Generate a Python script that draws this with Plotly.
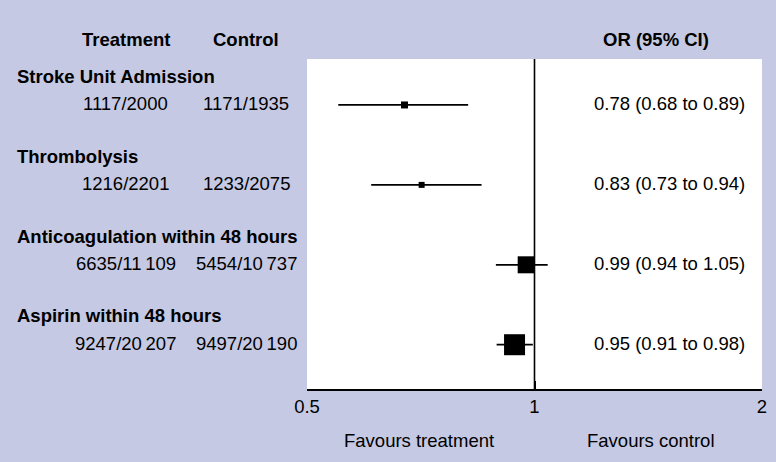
import plotly.graph_objects as go
import math

# ---- data ----
groups = ["Stroke Unit Admission", "Thrombolysis",
          "Anticoagulation within 48 hours", "Aspirin within 48 hours"]
treatment = ["1117/2000", "1216/2201", "6635/11\u2009109", "9247/20\u2009207"]
control = ["1171/1935", "1233/2075", "5454/10\u2009737", "9497/20\u2009190"]
or_text = ["0.78 (0.68 to 0.89)", "0.83 (0.73 to 0.94)",
           "0.99 (0.94 to 1.05)", "0.95 (0.91 to 0.98)"]
# positions of the squares / lines as drawn in the picture
or_point = [0.673, 0.709, 0.975, 0.941]
ci_low = [0.550, 0.608, 0.889, 0.891]
ci_high = [0.817, 0.851, 1.041, 0.995]
weights = [7, 6, 17, 21]
tick_vals = [0.5, 1, 2]
tick_text = ["0.5", "1", "2"]

rows = list(range(len(groups)))
BG = "#c5c9e3"
FONT = "Liberation Sans, Arial, Helvetica, sans-serif"
FS = 18.5

fig = go.Figure()
fig.add_trace(go.Scatter(
    x=or_point, y=rows, mode="markers",
    marker=dict(symbol="square", size=weights, color="black", opacity=1,
                line=dict(width=0)),
    error_x=dict(type="data", symmetric=False,
                 array=[h - p for h, p in zip(ci_high, or_point)],
                 arrayminus=[p - l for p, l in zip(or_point, ci_low)],
                 color="black", thickness=1.8, width=0),
    showlegend=False, hoverinfo="skip", cliponaxis=False,
))

fig.add_shape(type="line", xref="x", yref="paper", x0=1, x1=1, y0=0, y1=1,
              line=dict(color="black", width=1.6), layer="above")

ann = []
def A(x, y, text, xref="paper", yref="y", bold=False, xanchor="center"):
    ann.append(dict(x=x, y=y, xref=xref, yref=yref, text=f"<b>{text}</b>" if bold else text,
                    showarrow=False, xanchor=xanchor, yanchor="middle",
                    borderpad=0,
                    font=dict(family=FONT, size=FS, color="black")))

for r, g, t, c, o in zip(rows, groups, treatment, control, or_text):
    A(-0.64, r - 0.36, g, bold=True, xanchor="left")
    A(-0.3985, r - 0.02, t)
    A(-0.1333, r - 0.02, c)
    A(0.797, r - 0.02, o)

A(-0.3985, 1.0605, "Treatment", yref="paper", bold=True)
A(-0.1333, 1.0605, "Control", yref="paper", bold=True)
A(0.767, 1.0605, "OR (95% CI)", yref="paper", bold=True)
A(0.247, -0.157, "Favours treatment", yref="paper")
A(0.756, -0.157, "Favours control", yref="paper")

fig.update_layout(
    width=776, height=462,
    margin=dict(l=307, r=9, t=59, b=73),
    paper_bgcolor=BG, plot_bgcolor="white",
    annotations=ann,
    font=dict(family=FONT, size=FS, color="black"),
    xaxis=dict(type="log", range=[math.log10(0.5), math.log10(2)],
               tickvals=tick_vals, ticktext=tick_text,
               showgrid=False, zeroline=False, showline=True,
               linecolor="black", linewidth=1.6,
               ticks="inside", ticklen=8, tickwidth=1.6, tickcolor="black",
               tickfont=dict(family=FONT, size=FS, color="black")),
    yaxis=dict(range=[3.554, -0.575], showgrid=False, zeroline=False,
               showticklabels=False, showline=False, ticks=""),
)

fig.write_html("out.html")
